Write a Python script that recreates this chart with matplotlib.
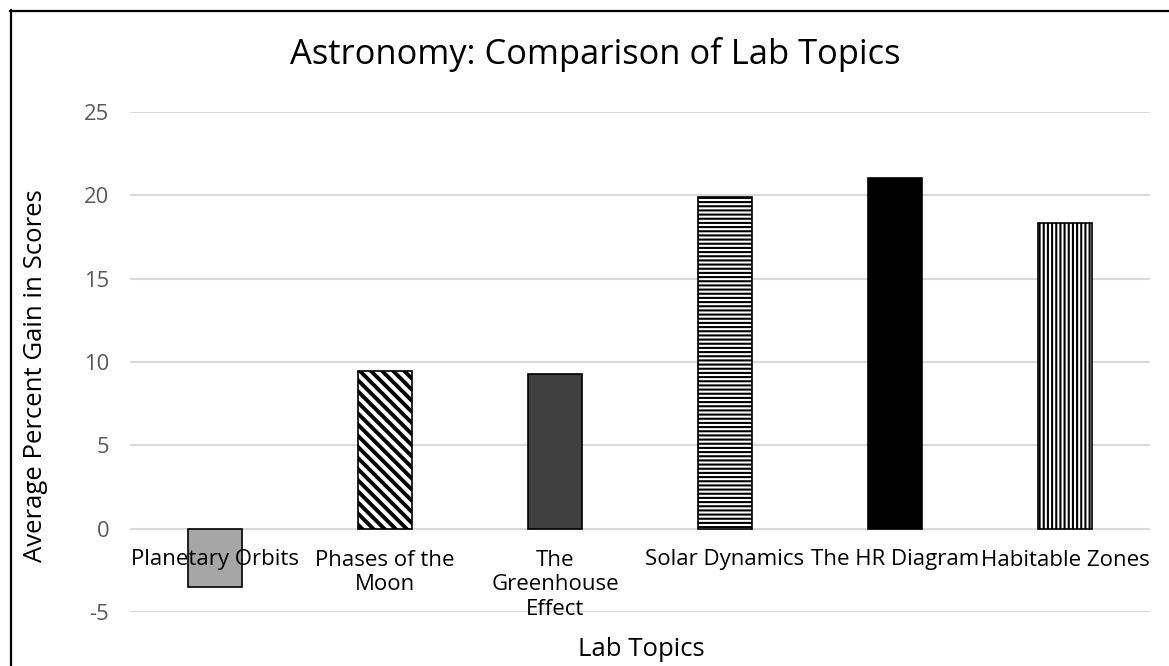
import matplotlib
matplotlib.use("Agg")
import matplotlib.pyplot as plt
from matplotlib.lines import Line2D

plt.rcParams['font.family'] = ['Open Sans', 'DejaVu Sans']

categories = ["Planetary Orbits", "Phases of the\nMoon", "The\nGreenhouse\nEffect",
              "Solar Dynamics", "The HR Diagram", "Habitable Zones"]
values = [-3.5, 9.45, 9.3, 19.9, 21.05, 18.35]
face_colors = ["#a6a6a6", "white", "#404040", "white", "black", "white"]
hatches = [None, "\\\\\\", None, "----", None, "||||"]
yticks = [-5, 0, 5, 10, 15, 20, 25]

W, H = 1169, 666
fig = plt.figure(figsize=(W / 100, H / 100), dpi=100)
ax = fig.add_axes([130 / W, 1 - 612 / H, 1020 / W, 500 / H])

for i, (v, fc, h) in enumerate(zip(values, face_colors, hatches)):
    bars = ax.bar(i, v, width=0.32, color=fc, edgecolor="black", linewidth=1.2,
                  hatch=h, zorder=3)
    for b in bars:
        if h is not None and hasattr(b, "set_hatch_linewidth"):
            b.set_hatch_linewidth(2.8 if h.startswith("\\") else 1.5)

ax.set_xlim(-0.5, len(categories) - 0.5)
ax.set_ylim(-5, 25)
ax.set_yticks(yticks)
ax.set_yticklabels([str(t) for t in yticks])
ax.tick_params(axis="y", length=0, pad=15, labelsize=15.8, labelcolor="#595959")
ax.set_xticks([])
ax.yaxis.grid(True, color="#d9d9d9", linewidth=1.5, zorder=0)
ax.set_axisbelow(True)
for s in ax.spines.values():
    s.set_visible(False)

for i, c in enumerate(categories):
    ax.annotate(c, xy=(i, 0), xytext=(0, -15), textcoords="offset points",
                ha="center", va="top", fontsize=16, color="black",
                linespacing=1.22, zorder=4)

fig.text(36 / W, 1 - 376 / H, "Average Percent Gain in Scores", rotation=90,
         ha="center", va="center", fontsize=18.5)
fig.text(641 / W, 1 - 650 / H, "Lab Topics", ha="center", va="center", fontsize=18.5)
fig.text(595 / W, 1 - 55 / H, "Astronomy: Comparison of Lab Topics",
         ha="center", va="center", fontsize=24.8)

# outer chart border (partially visible)
fig.add_artist(Line2D([10.5 / W, 10.5 / W], [0, 1 - 10 / H], transform=fig.transFigure,
                      color="black", linewidth=1.6))
fig.add_artist(Line2D([10 / W, 1], [1 - 10.5 / H, 1 - 10.5 / H], transform=fig.transFigure,
                      color="black", linewidth=1.6))

fig.savefig("out.png", dpi=100)
